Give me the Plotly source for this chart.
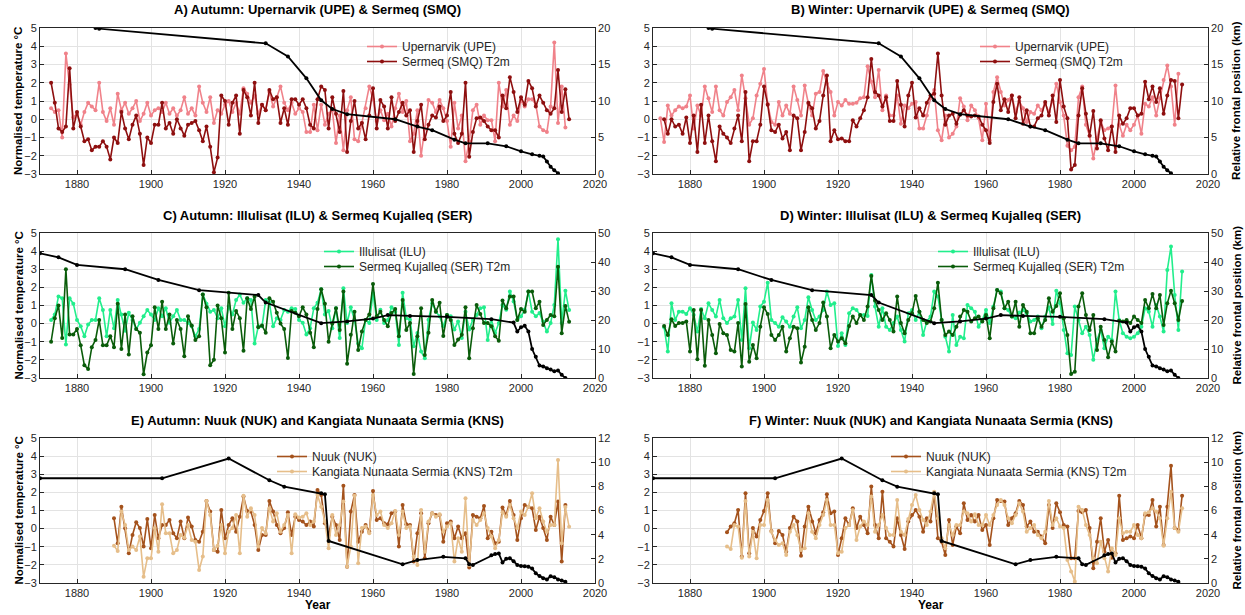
import plotly.graph_objects as go

W, H = 1245, 615

# ------------------------------------------------------------------ data
# Normalised temperature anomalies (°C). Panels A-D start in 1873 unless noted.
UPE_AUT = [0.6, 0.4, 0.5, -1.0, 3.6, 1.9, 0.1,
           0.3, -0.3, 0.4, 0.9, 0.7, 0.5, 2.0, 0.4, -0.1, 0.6,
           -0.3, 1.4, 0.5, 0.9, 0.3, 0.6, 1.0, -0.1, 0.3, 0.9,
           0.2, 0.5, 0.6, 0.4, 0.9, 0.3, 0.6, 0.2, 0.5, 1.2,
           0.3, 0.6, 0.2, 1.8, 0.9, 0.4, 1.2, -0.2, 0.5, 0.3,
           0.8, 1.0, 0.4, 0.9, 0.3, 1.7, 1.4, 0.9, 1.3, 0.3,
           0.8, 0.5, 1.5, 0.7, 1.2, 1.8, 0.9, 0.5, 0.9, 0.3,
           0.6, 0.4, -0.7, -0.7, 0.8, -0.6, 0.8, -0.3, 0.3, 0.5,
           -1.3, 0.2, -1.7, 0.5, 1.2, -1.1, -1.2, -0.2, 0.6, 1.8,
           1.1, -0.1, 0.5, -0.05, 0.3, -0.4, 0.6, 1.4, 0.4, 1.0,
           -1.2, -0.8, 0.5, -2.0, -0.5, 1.05, 0.9, 0.4, 1.05, 0.6,
           -0.1, -1.5, 0.9, -0.5, 0.2, -2.3, -1.2, 0.5, 0.8, -0.3,
           0.2, -0.05, -0.05, -1.2, 2.0, 0.7, 1.6, -0.3, 0.2, -0.1,
           1.05, 0.7, 1.1, 1.1, 0.8, -0.4, -0.6, -0.7, 0.7, 4.2,
           -0.2, 1.8, -0.45]
SMQ_AUT = [2.0, 0.9, -0.5, -0.7, -0.4, 2.8, -0.5,
           0.4, -0.4, -1.2, -1.1, -1.7, -1.5, -1.5, -1.2, -1.5, -2.2,
           -1.0, -1.3, 0.4, -0.5, -1.1, -0.3, 0.2, -0.8, -2.5, -1.0,
           -1.3, -0.3, -0.3, 0.9, -0.5, -0.2, -0.8, 0.0, -0.5, -0.9,
           -0.3, -0.2, -0.1, -0.6, -1.2, -0.4, -1.5, -2.9, -2.1, 1.3,
           1.0, -0.3, 0.9, 1.3, -0.8, 1.6, 1.2, 0.2, 2.0, -0.2,
           0.8, 0.5, 1.6, 1.1, 1.2, -0.2, 0.6, -0.3, 1.1, 1.1,
           0.8, 1.1, 0.6, -0.3, -0.5, 1.1, 1.8, 1.6, -0.5, 1.2,
           0.3, -0.7, 1.55, -1.8, -0.1, 1.0, -0.5, -0.2, -1.1, 0.2,
           1.7, -0.5, 1.05, 0.7, -0.5, 1.2, -0.1, 0.4, 0.9, 0.2,
           0.5, -1.8, -0.1, 0.8, -1.1, -0.3, 0.2, 0.1, 0.7, -0.1,
           0.2, 1.5, -0.8, -1.3, -0.8, 2.0, -2.05, -0.7, 0.05, 0.1,
           -0.1, -0.4, -0.6, -0.6, -1.0, 1.3, 0.6, 2.3, 1.5, 0.4,
           1.2, 0.8, 2.1, 1.7, 0.7, 1.3, 0.9, 0.5, 0.3, 0.6,
           2.7, 0.4, 1.65, 0.0]
# UPE winter starts in 1872
UPE_WIN = [0.05, -1.25, 0.75, 0.2, 0.5, 0.7, 0.6, 0.7,
           1.3, -0.5, 0.75, 0.2, 1.8, 1.15, 0.4, 1.8, 0.5, 0.2,
           0.95, 1.2, 1.6, 0.5, 2.4, 1.15, -0.3, 0.05, 1.3, 1.95,
           2.75, 0.85, -0.15, -0.3, 0.95, 0.2, 0.75, 0.3, 1.8, 1.05,
           0.2, 1.85, 0.85, 0.2, 1.4, 1.5, 2.65, 1.95, 1.5, 0.2,
           0.95, 0.75, 1.05, 0.85, 0.85, 0.9, 1.15, 1.2, 2.9, 2.05,
           1.2, 2.7, 0.5, 1.3, 0.2, 0.2, 1.3, -0.25, 0.75, 0.6,
           0.85, 0.95, -0.5, -0.5, 0.2, 1.15, 1.6, -0.6, -1.15, 0.2,
           -1.0, -0.8, -0.4, 1.15, 0.7, -0.05, 0.75, 0.5, 0.05, -1.15,
           0.85, -1.15, 1.5, 2.3, 1.5, 0.75, 1.05, 1.3, 0.4, 1.0,
           0.6, -0.15, 0.4, 0.3, 0.75, 0.5, 0.85, 0.4, 1.0, 1.95,
           0.95, 0.2, -1.45, -1.7, -1.5, 1.2, 1.8, -0.3, -0.9, -2.15,
           -1.05, -0.15, -0.6, -0.5, -0.4, 1.85, -0.3, -0.9, -0.3, -0.6,
           -0.3, 0.2, -0.8, 0.85, 0.7, 1.2, 0.2, 1.15, 2.15, 2.95,
           1.8, -0.3, 2.5]
SMQ_WIN = [0.0, -0.8, 0.0, -0.4, -0.3, -0.8, 0.1,
           -1.3, 0.2, -1.8, 0.8, -1.3, 0.2, -1.2, -2.3, -0.4, -0.8,
           -1.0, -1.3, -0.5, 0.2, -1.2, 1.5, -2.3, -1.2, -1.2, -0.3,
           1.8, 0.8, -0.6, -0.7, -0.3, -1.05, -0.7, -1.7, 0.2, 0.05,
           -1.7, -0.7, 0.9, 0.6, -0.5, -0.1, 1.3, 2.4, -1.2, -0.6,
           -1.1, -1.05, -1.2, -1.2, -0.05, -0.4, 0.05, 0.5, 1.2, 3.3,
           1.5, 1.3, 0.7, 1.2, -0.1, -0.1, 2.1, 0.8, -0.4, 1.3,
           2.0, 0.1, 0.6, 0.2, 0.9, 1.3, 1.4, 3.6, 1.3, -0.3,
           0.2, 0.3, -0.25, 0.25, 0.5, 0.2, 0.15, 0.2, 0.15, -0.3,
           -0.6, -1.3, 0.95, 1.95, 0.5, 1.1, 0.4, 1.3, 0.05, 1.2,
           -0.25, 0.5, -0.4, -0.4, 0.05, 0.2, 0.95, 0.2, 1.3, -0.15,
           2.15, 0.7, 0.05, -2.75, -2.5, 0.2, 1.7, 0.3, -0.9, 0.45,
           -1.6, -0.05, -1.05, -1.7, -0.4, -1.8, 0.2, -0.25, 0.05, 0.6,
           0.6, 0.2, 0.3, 2.05, 1.1, 1.8, 0.95, 1.7, 0.3, 1.3,
           2.15, 2.1, 0.05, 1.9]
ILU_AUT = [0.2, 0.5, 1.5, 1.4, -1.15, 1.4, 1.1,
           0.2, -0.15, -0.7, -0.05, 0.2, 0.2, 1.4, 0.75, -0.7, 0.75,
           -0.25, 1.3, 0.5, -0.4, 0.6, 0.2, -0.3, 0.05, 0.4, 0.75,
           0.5, 0.2, 0.85, 0.4, 0.85, 0.05, 0.4, 0.75, 0.2, 0.2,
           0.05, -0.15, -0.7, -0.3, 1.6, 1.1, 0.66, 0.75, 0.3, 0.85,
           -0.15, 0.95, 0.5, 1.3, 1.6, 1.15, 1.4, 1.3, -1.1, -0.15,
           -0.15, 1.3, 1.15, -0.15, 0.3, 0.2, 0.75, 0.66, 0.85, 0.8,
           0.2, 0.05, -0.6, -0.25, 0.85, 1.15, 1.9, 0.5, 0.7, -0.25,
           0.85, -0.8, 1.95, 0.03, 0.9, 0.2, -1.1, -1.36, 0.2, 0.03,
           1.68, 0.2, 0.76, 0.03, 0.2, 0.9, 0.66, -1.18, 1.71, 0.3,
           0.22, -1.25, -0.52, -1.54, -1.91, 0.22, 1.13, 0.66, 0.4, -0.15,
           0.48, 0.4, -0.33, 0.12, -0.8, 0.66, -0.33, 0.22, 0.48, 0.85,
           0.9, -0.9, 0.22, -0.52, 0.03, 1.03, 0.76, 1.77, 1.22, 0.22,
           0.4, 0.76, 1.77, 0.66, 0.4, 0.58, 0.12, -0.44, 0.03, 1.03,
           4.65, 0.03, 1.82, 0.75]
SER_AUT = [-1.0, 0.3, 1.0, -0.8, 3.0, -0.6, -0.6,
           -0.3, -1.2, -2.3, -2.5, -1.3, -0.9, 0.2, -1.2, -1.2, -0.7,
           -1.3, 1.1, -1.4, 0.5, -1.7, 0.4, -0.3, -0.5, -2.8, -1.6,
           -1.2, 0.9, -0.3, 1.2, -0.3, 0.5, -1.1, 0.2, -0.3, -1.8,
           0.4, -0.1, -0.9, -0.7, 1.6, 0.9, -2.3, -2.0, 1.0, 0.3,
           -1.6, 1.7, -0.3, 0.7, 0.3, -1.5, 1.4, 0.8, 1.5, -0.2,
           -0.1, -0.5, 1.4, 1.2, 0.6, 0.0, -0.3, -1.9, 0.7, 0.6,
           0.4, 0.9, 0.5, -0.5, -1.3, 0.8, 1.9, 1.1, -1.0, 0.0,
           0.85, -0.35, 1.77, -2.22, -0.62, 0.66, -1.45, -0.44, 0.2, 0.5,
           2.19, 0.4, 0.66, 0.2, -0.15, 0.58, 0.8, -0.7, 1.31, -0.35,
           0.03, -2.78, -0.7, 0.85, -1.73, -0.5, 1.31, 0.66, 1.15, -0.68,
           0.48, 0.2, -1.18, -0.87, -0.62, 0.9, -1.91, -0.25, 1.03, 0.53,
           0.03, 0.03, -0.15, -0.7, -0.94, 1.27, 0.85, 1.49, 1.49, 0.2,
           0.8, 0.66, 1.77, 1.77, 0.85, 1.2, -0.07, 0.2, 0.48, 0.4,
           3.14, -0.53, 0.97, 0.11]
ILU_WIN = [-0.2, -1.54, 1.12, 0.2, 0.66, 0.66, 0.53,
           0.85, 0.48, -0.44, 0.8, 0.3, 1.12, 0.75, 0.39, 1.31, 0.3,
           0.03, 0.3, 0.39, 1.31, -0.9, 1.95, -1.36, 0.06, -0.35, 0.94,
           1.21, 2.26, 0.2, 0.03, -0.17, 0.35, 0.12, -0.17, 0.39, 0.9,
           -0.26, 0.2, 1.45, 0.75, 0.2, 0.39, 0.75, 1.77, 1.03, 1.12,
           -1.23, -0.53, -1.18, 0.57, 0.85, 0.75, 0.48, 0.48, 0.42, 2.68,
           0.94, -0.17, 0.85, -0.17, -0.35, 0.03, 0.39, -0.35, -0.99, 0.57,
           0.75, 0.2, 0.66, -0.63, 0.12, 0.39, 1.77, 1.49, 0.2, -0.72,
           -1.54, 0.48, -1.18, -0.72, -0.81, 1.03, 0.85, 0.66, -0.17, 0.2,
           0.75, 0.03, 0.94, 1.86, 1.77, 0.85, 0.75, 0.39, 0.3, 0.61,
           0.75, 0.57, 0.12, 0.2, 0.39, -0.26, 0.39, 0.9, -0.02, 1.82,
           1.12, -0.35, -1.64, -1.73, 0.94, 0.2, -0.53, -0.17, -0.63, -2.0,
           -0.9, -0.35, -1.36, -0.72, -0.9, 1.77, 0.2, -0.53, -0.72, -0.81,
           -0.72, -0.53, -0.17, 0.85, 0.66, -0.17, 1.03, 0.39, -0.44, 2.96,
           4.25, 1.58, -0.35, 2.87]
SER_WIN = [-0.13, -0.63, 0.24, -0.13, 0.03, 0.03, 0.12,
           -1.54, 0.75, -1.97, 0.75, -2.33, 0.2, -0.63, -1.64, -0.02, -0.53,
           -0.63, -1.45, -1.54, 0.03, -2.37, 1.08, -2.1, -1.18, -1.91, -0.17,
           0.9, 0.53, -0.63, -0.9, -0.63, -0.17, -1.54, -0.81, -0.17, -0.26,
           -2.15, -1.27, 0.9, 0.2, -0.35, 0.03, 1.16, 0.39, -1.36, -0.63,
           -0.99, -0.81, -1.08, -0.13, 0.39, 0.03, 0.48, 0.2, 0.94, 2.63,
           1.27, 0.75, 0.2, 0.57, 0.2, -0.44, 1.49, 0.03, -0.53, 0.2,
           0.57, 1.53, 0.66, 0.2, 0.03, 0.12, 0.85, 2.26, 0.2, -0.63,
           -0.44, -0.63, -0.17, 0.39, 0.75, 0.66, 0.12, 0.3, 0.39, 0.12,
           0.48, -0.81, 0.85, 1.86, 1.67, 0.85, 1.21, 0.39, 1.21, -0.17,
           1.03, 0.66, -0.53, -0.53, 0.3, -0.17, 0.2, 1.4, 0.66, 0.97,
           1.67, 0.3, -0.63, -2.78, -2.65, 0.94, 1.67, 0.48, -0.35, 0.48,
           -1.45, -0.17, -0.9, -1.85, -0.99, -1.54, 0.16, 0.12, 0.2, 0.03,
           0.39, 0.2, 0.03, 1.31, 0.85, 1.63, 0.85, 1.58, -0.07, 1.12,
           1.82, 1.12, 0.2, 1.25]
# Panels E-F start in 1890
NUK_AUT = [0.57, -0.81, 1.21, 0.02, -1.36, -0.35, 0.35, 0.03, -0.99, 0.53,
           -1.08, 0.75, -0.53, 0.2, 0.2, 0.48, -0.26, -0.53, 0.39, -0.53,
           0.61, 0.12, -0.63, -0.72, -0.17, 1.53, 0.94, -1.18, -1.27, 1.03,
           -0.53, 0.2, 0.57, -0.17, 0.66, 1.77, 0.97, 0.94, 0.2, -1.18,
           -0.35, -0.35, 1.53, 0.94, 0.2, -0.26, 0.03, 0.9, -0.35, 0.66,
           0.48, 0.39, 0.2, 0.39, 0.12, 2.13, 1.86, 0.3, -0.35, 0.66,
           0.2, -0.63, 2.37, -2.1, 0.94, 1.86, -0.72, -0.17, 0.2, -0.17,
           2.08, 0.48, 0.57, 0.3, 0.24, 0.85, 0.94, -0.99, 1.31, 0.24,
           0.2, -1.82, -0.26, 0.85, -1.64, 0.3, 0.85, 0.75, 0.75, -0.72,
           0.3, 0.39, -0.53, 0.12, -0.53, -0.26, -2.15, 0.75, 0.66, 0.57,
           1.25, -0.53, -0.17, -0.81, -0.72, 1.16, 0.75, 1.53, 0.75, -0.63,
           0.57, 1.31, 1.21, 1.12, -0.07, 0.66, 0.03, -0.63, 0.66, 0.2,
           1.5, -1.82, 1.31]
KNS_AUT = [-0.94, -1.23, 0.94, 0.2, -1.18, -0.99, -1.18, -0.44, -2.65, -1.64,
           -1.64, 0.03, -1.27, 1.34, -0.26, -0.26, -1.36, -1.18, -0.35, -0.5,
           0.2, -0.63, -0.72, -2.28, -1.54, 1.53, 0.75, -1.18, -0.94, 0.2,
           -1.36, -0.17, 0.03, 0.75, -1.36, 1.82, 0.66, 1.12, 0.75, -0.99,
           0.03, -0.26, 1.12, 0.39, 0.85, -0.17, 0.2, 0.75, -1.36, 0.8,
           0.61, 0.66, 0.85, 0.2, 0.39, 1.86, 1.21, 0.4, -1.08, 0.75,
           -0.35, 0.2, 1.49, -2.1, -0.99, 1.82, -1.91, 0.03, 0.12, -0.26,
           1.86, 0.75, 0.94, 0.2, 0.03, 0.3, 0.97, -0.35, 0.94, 0.03,
           0.12, -1.54, -2.0, 1.03, -1.27, 0.39, 0.85, 0.66, 0.8, -0.17,
           0.12, 0.3, -1.82, -0.53, -1.27, 1.67, -2.0, 0.48, 0.2, 0.48,
           0.85, 0.03, -0.44, -1.08, -0.63, 0.9, 0.66, 1.31, 0.57, 0.03,
           0.94, 0.75, 1.21, 1.95, 0.57, 1.12, 0.39, -0.17, 0.2, 0.2,
           3.79, -0.8, 1.2, 0.1]
NUK_WIN = [-0.2, 0.12, 0.3, 1.03, -1.54, 1.95, -1.36, 0.03, -0.44, 0.48,
           0.97, 1.95, -0.13, -0.81, -0.13, -0.35, -1.27, 0.03, 0.66, 0.39,
           -1.5, 0.12, 1.21, 0.39, -0.26, 0.48, 0.9, 1.89, 0.85, 0.94,
           -1.45, -0.53, 0.57, 0.2, 1.12, 0.03, 0.66, 0.2, -0.26, 2.32,
           0.2, -0.53, 2.04, -0.53, -0.72, -0.99, 0.57, -0.35, -1.12, 0.39,
           0.75, 1.03, 0.66, -0.17, 0.57, 0.39, 1.95, -0.53, -0.72, -1.45,
           0.48, -0.9, 0.12, -0.26, 1.4, 0.48, 0.75, 0.39, 0.75, -0.07,
           0.2, -0.9, 0.57, 1.58, 1.53, 1.49, 0.2, 0.57, 0.85, 1.53,
           1.31, 0.12, 0.39, -0.17, -0.17, -0.44, -0.81, 1.31, 0.03, 1.4,
           0.9, 0.2, 0.12, -1.64, -1.64, 0.97, 0.9, 1.03, 0.03, -2.19,
           -0.72, 0.57, -1.27, -0.63, -1.6, -1.36, 1.82, -0.63, -0.53, -0.44,
           -0.53, 0.2, -0.53, 0.75, 0.75, 1.58, 0.12, 1.21, -0.9, 1.21,
           3.47, 0.03, -0.07, 1.82]
KNS_WIN = [-0.99, -1.12, 0.2, 0.12, -1.6, 1.53, -1.54, -0.17, -1.64, 0.2,
           0.2, 1.58, -0.17, -0.63, -0.9, -0.81, -1.45, -0.17, 0.2, -0.35,
           -1.18, -1.08, 0.85, -0.17, -0.53, 0.2, 0.75, 1.58, 0.2, 0.2,
           -1.36, -1.27, 0.03, 0.2, 1.03, -0.63, 0.12, 0.39, 0.2, 1.77,
           -0.17, 0.2, 0.75, 0.03, -0.35, -0.35, 1.58, -0.17, -0.35, 0.53,
           1.31, 1.86, 1.03, 0.48, 0.2, 0.94, 2.04, 0.57, -0.53, -1.08,
           0.2, -0.35, 0.2, 0.2, 0.94, 0.85, 0.39, 0.8, 0.2, 0.2,
           0.75, 0.2, 0.75, 1.31, 1.58, 1.31, 0.57, 0.3, 0.75, 1.4,
           0.94, -0.17, 0.03, 0.2, -0.35, -0.53, -0.17, 1.53, 0.2, 0.57,
           0.12, 0.03, -1.73, -2.37, -2.92, 1.21, 1.03, 0.2, -0.35, -1.64,
           -1.91, -0.72, -1.64, -2.37, -1.08, -1.45, 0.57, -0.26, -0.17, -0.17,
           0.2, -0.35, -0.53, 0.85, 0.9, 1.12, 0.94, 0.57, -0.94, 0.57,
           2.04, 0.03, -0.17, 1.12]

# Relative frontal positions (km)
SMQ_FRONT_YR = [1885, 1886, 1931, 1937, 1942, 1946, 1949, 1953, 1966, 1972, 1976,
                1982, 1985, 1991, 1996, 2000, 2003, 2005, 2006, 2007, 2008, 2009, 2010]
SMQ_FRONT_KM = [20.0, 19.9, 17.9, 16.1, 13.1, 10.1, 8.9, 8.2, 7.5, 6.5, 6.0,
                4.7, 4.2, 4.2, 3.8, 3.1, 2.7, 2.5, 2.4, 1.7, 1.0, 0.5, 0.1]
SER_FRONT_YR = [1870, 1875, 1880, 1893, 1902, 1913, 1929, 1931, 1946, 1953, 1960,
                1964, 1970, 1980, 1992, 1998, 1999, 2000, 2001, 2002, 2003, 2004,
                2005, 2006, 2007, 2008, 2009, 2010, 2011, 2012]
SER_FRONT_KM = [43.0, 41.6, 39.0, 37.5, 33.8, 30.3, 28.6, 26.0, 18.9, 19.5, 20.5,
                21.7, 21.4, 21.1, 20.3, 19.1, 16.0, 17.5, 18.0, 16.0, 10.0, 7.3,
                4.3, 4.0, 3.4, 2.9, 2.3, 2.6, 1.1, 0.0]
KNS_FRONT_YR = [1870, 1903, 1921, 1932, 1936, 1946, 1947, 1948, 1968, 1972, 1979,
                1985, 1986, 1987, 1992, 1993, 1994, 1995, 1996, 1997, 1998, 1999,
                2000, 2001, 2002, 2003, 2004, 2005, 2006, 2007, 2008, 2009, 2010,
                2011, 2012]
KNS_FRONT_KM = [8.67, 8.67, 10.3, 8.5, 7.97, 7.42, 7.34, 3.48, 1.55, 1.9, 2.17,
                2.04, 1.55, 1.5, 2.3, 2.4, 2.45, 1.7, 2.0, 2.05, 1.8, 1.5,
                1.4, 1.38, 1.35, 1.2, 0.8, 0.57, 0.4, 0.3, 0.55, 0.48, 0.3,
                0.2, 0.1]

XTICKS = [1880, 1900, 1920, 1940, 1960, 1980, 2000, 2020]
YTICKS = [-3, -2, -1, 0, 1, 2, 3, 4, 5]

PINK, DRED = "#F0828A", "#8E0F0F"
LGRN, DGRN = "#22EE8C", "#0A5C0A"
BRWN, TAN = "#A4521C", "#E6BE8A"

FONT = "Liberation Sans, Arial, sans-serif"
AX = "#262626"


def yrs(start, vals):
    return list(range(start, start + len(vals)))


panels = [
    dict(title="A) Autumn: Upernarvik (UPE) & Sermeq (SMQ)",
         s1=("Upernarvik (UPE)", 1873, UPE_AUT, PINK),
         s2=("Sermeq (SMQ) T2m", 1873, SMQ_AUT, DRED),
         front=(SMQ_FRONT_YR, SMQ_FRONT_KM), rmax=20, rticks=[0, 5, 10, 15, 20],
         col=0, row=0, leg=(362, 46.5)),
    dict(title="B) Winter: Upernarvik (UPE) & Sermeq (SMQ)",
         s1=("Upernarvik (UPE)", 1872, UPE_WIN, PINK),
         s2=("Sermeq (SMQ) T2m", 1873, SMQ_WIN, DRED),
         front=(SMQ_FRONT_YR, SMQ_FRONT_KM), rmax=20, rticks=[0, 5, 10, 15, 20],
         col=1, row=0, leg=(975, 46.5)),
    dict(title="C) Autumn: Illulisat (ILU) & Sermeq Kujalleq (SER)",
         s1=("Illulisat (ILU)", 1873, ILU_AUT, LGRN),
         s2=("Sermeq Kujalleq (SER) T2m", 1873, SER_AUT, DGRN),
         front=(SER_FRONT_YR, SER_FRONT_KM), rmax=50, rticks=[0, 10, 20, 30, 40, 50],
         col=0, row=1, leg=(319, 251.5)),
    dict(title="D) Winter: Illulisat (ILU) & Sermeq Kujalleq (SER)",
         s1=("Illulisat (ILU)", 1873, ILU_WIN, LGRN),
         s2=("Sermeq Kujalleq (SER) T2m", 1873, SER_WIN, DGRN),
         front=(SER_FRONT_YR, SER_FRONT_KM), rmax=50, rticks=[0, 10, 20, 30, 40, 50],
         col=1, row=1, leg=(933, 251.5)),
    dict(title="E) Autumn: Nuuk (NUK) and Kangiata Nunaata Sermia (KNS)",
         s1=("Nuuk (NUK)", 1890, NUK_AUT, BRWN),
         s2=("Kangiata Nunaata Sermia (KNS) T2m", 1890, KNS_AUT, TAN),
         front=(KNS_FRONT_YR, KNS_FRONT_KM), rmax=12, rticks=[0, 2, 4, 6, 8, 10, 12],
         col=0, row=2, leg=(272, 456.5)),
    dict(title="F) Winter: Nuuk (NUK) and Kangiata Nunaata Sermia (KNS)",
         s1=("Nuuk (NUK)", 1890, NUK_WIN, BRWN),
         s2=("Kangiata Nunaata Sermia (KNS) T2m", 1890, KNS_WIN, TAN),
         front=(KNS_FRONT_YR, KNS_FRONT_KM), rmax=12, rticks=[0, 2, 4, 6, 8, 10, 12],
         col=1, row=2, leg=(886, 456.5)),
]

XPIX = [(40, 595), (653, 1208)]
YPIX = [(28, 174), (233, 378), (438, 583)]
LEG_ROW_GAP = 15


def px(x):
    return x / W


def py(y):
    return 1 - y / H


fig = go.Figure()
layout = dict(width=W, height=H, margin=dict(l=0, r=0, t=0, b=0, pad=0),
              paper_bgcolor="white", plot_bgcolor="white",
              font=dict(family=FONT, size=11, color=AX), showlegend=True)
annotations = []
legcount = 0

for i, p in enumerate(panels):
    n = i + 1
    xa = "x" if n == 1 else f"x{n}"
    yl = f"y{2 * i + 1}" if i > 0 else "y"
    yr = f"y{2 * i + 2}"
    x0, x1 = XPIX[p["col"]]
    yt, yb = YPIX[p["row"]]
    lx, ly = p["leg"]

    for k, (name, start, vals, color) in enumerate((p["s1"], p["s2"])):
        legcount += 1
        legname = "legend" if legcount == 1 else f"legend{legcount}"
        fig.add_trace(go.Scatter(
            x=yrs(start, vals), y=vals, name=name, mode="lines+markers",
            line=dict(color=color, width=1.6), marker=dict(color=color, size=4),
            xaxis=xa, yaxis=yl, legend=legname, connectgaps=False))
        layout[legname] = dict(x=px(lx), y=py(ly + k * LEG_ROW_GAP),
                               xanchor="left", yanchor="middle",
                               bgcolor="rgba(0,0,0,0)", borderwidth=0,
                               font=dict(size=12, color=AX, family=FONT),
                               itemwidth=30)
    fy, fk = p["front"]
    fig.add_trace(go.Scatter(
        x=fy, y=fk, mode="lines+markers", showlegend=False,
        line=dict(color="black", width=1.8), marker=dict(color="black", size=4),
        xaxis=xa, yaxis=yr))

    xkey = "xaxis" if n == 1 else f"xaxis{n}"
    ylkey = "yaxis" if i == 0 else f"yaxis{2 * i + 1}"
    yrkey = f"yaxis{2 * i + 2}"
    common = dict(showline=True, linecolor=AX, linewidth=0.8, ticks="inside",
                  ticklen=4, tickcolor=AX, tickfont=dict(size=11, color=AX),
                  zeroline=False, automargin=False)
    layout[xkey] = dict(domain=[px(x0), px(x1)], anchor=yl, range=[1870, 2020],
                        tickvals=XTICKS, showgrid=True, gridcolor="#E3E3E3",
                        gridwidth=1, mirror=True, **common)
    layout[ylkey] = dict(domain=[py(yb), py(yt)], anchor=xa, range=[-3, 5],
                         tickvals=YTICKS, showgrid=True, gridcolor="#E3E3E3",
                         gridwidth=1, **common)
    layout[yrkey] = dict(domain=[py(yb), py(yt)], anchor=xa, overlaying=yl,
                         side="right", range=[0, p["rmax"]], tickvals=p["rticks"],
                         showgrid=False, **common)

    annotations.append(dict(text=f"<b>{p['title']}</b>", x=px((x0 + x1) / 2),
                            y=py(yt - 18), xref="paper", yref="paper",
                            xanchor="center", yanchor="middle", showarrow=False,
                            font=dict(size=13, color="black", family=FONT)))
    if p["col"] == 0:
        annotations.append(dict(text="<b>Normalised temperature °C</b>", x=px(18),
                                y=py((yt + yb) / 2), xref="paper", yref="paper",
                                xanchor="center", yanchor="middle",
                                textangle=-90, showarrow=False,
                                font=dict(size=11.5, color="black", family=FONT)))
    else:
        annotations.append(dict(text="<b>Relative frontal position (km)</b>",
                                x=px(1236), y=py((yt + yb) / 2), xref="paper",
                                yref="paper", xanchor="center", yanchor="middle",
                                textangle=-90, showarrow=False,
                                font=dict(size=11.5, color="black", family=FONT)))
    if p["row"] == 2:
        annotations.append(dict(text="<b>Year</b>", x=px((x0 + x1) / 2), y=py(605),
                                xref="paper", yref="paper", xanchor="center",
                                yanchor="middle", showarrow=False,
                                font=dict(size=12, color="black", family=FONT)))

layout["annotations"] = annotations
fig.update_layout(**layout)
# remove the browser's default page margin so the figure sits at (0, 0)
fig.write_html("out.html",
               config={"displayModeBar": False},
               post_script="document.body.style.margin='0';"
                           "document.body.style.overflow='hidden';")
